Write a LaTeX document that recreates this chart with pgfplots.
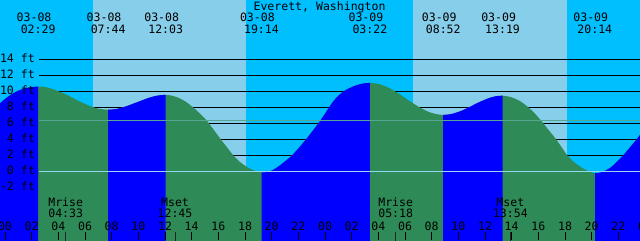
\documentclass[border=0pt]{standalone}
\usepackage{pgfplots}
\pgfplotsset{compat=1.18}
\usepgfplotslibrary{fillbetween}
\usepackage{fontspec}
\newfontfamily\mono{DejaVu Sans Mono}
\definecolor{night}{RGB}{0,191,255}
\definecolor{day}{RGB}{135,206,235}
\definecolor{rise}{RGB}{0,0,255}
\definecolor{fall}{RGB}{46,139,87}
\definecolor{datum}{RGB}{150,215,240}
\definecolor{msl}{RGB}{85,165,144}
\pgfplotsset{
  layers/tide/.define layer set={axis background,axis grid,pre main,main,axis ticks,axis lines,axis tick labels,axis descriptions,axis foreground}{},
}
\begin{document}
\begin{tikzpicture}[every node/.style={font=\mono\fontsize{8.2}{9}\selectfont, inner sep=0pt, text=black}]
\begin{axis}[
  set layers=tide,
  width=16cm, height=6cm, scale only axis,
  xmin=-0.375, xmax=47.625, ymin=-8.5875, ymax=21.4125,
  axis line style={draw=none},
  ytick=\empty,
  xtick={2,4,...,22,26,28,...,46},
  xticklabels={},
  extra x ticks={0,24},
  extra x tick labels={},
  extra x tick style={major tick style={line width=1.9pt}},
  xtick pos=left,
  tick align=inside,
  major tick length=0.2cm,
  xtick style={black, line width=0.7pt},
  clip=true,
]
% sky
\addplot[fill=night, draw=none, on layer=axis background] coordinates {(-1,-9) (49,-9) (49,22) (-1,22)} -- cycle;
\addplot[fill=day, draw=none, on layer=axis background] coordinates {(6.6,-9) (18.075,-9) (18.075,22) (6.6,22)} -- cycle;
\addplot[fill=day, draw=none, on layer=axis background] coordinates {(30.6,-9) (42.15,-9) (42.15,22) (30.6,22)} -- cycle;
% grid lines behind water
\addplot[black, line width=0.7pt, on layer=axis grid] coordinates {(2.55,14) (48,14)};
\addplot[black, line width=0.7pt, on layer=axis grid] coordinates {(2.55,12) (48,12)};
\addplot[black, line width=0.7pt, on layer=axis grid] coordinates {(2.55,10) (48,10)};
\addplot[black, line width=0.7pt, on layer=axis grid] coordinates {(2.55,8) (48,8)};
\addplot[black, line width=0.7pt, on layer=axis grid] coordinates {(2.55,6) (48,6)};
\addplot[black, line width=0.7pt, on layer=axis grid] coordinates {(2.55,4) (48,4)};
\addplot[black, line width=0.7pt, on layer=axis grid] coordinates {(2.55,2) (48,2)};
% tide curve (hours since 03-08 00:00, feet)
\addplot[draw=none, smooth, name path=tide] coordinates {
(-0.375,8.5) (0.2,9.3) (0.9,10.0) (1.6,10.4) (2.483,10.6) (3.2,10.47) (3.9,10.08)
(4.7,9.5) (5.5,8.81) (6.5,8.07) (7.1,7.8) (7.733,7.7) (8.4,7.81) (9.0,8.07)
(9.9,8.63) (10.8,9.19) (11.4,9.45) (12.05,9.55) (12.6,9.42) (13.125,9.1)
(13.6,8.65) (14.1,8.0) (14.6,7.25) (15.1,6.4) (15.65,5.2) (16.18,4.0) (16.65,3.0)
(17.12,2.0) (17.6,1.2) (18.1,0.6) (18.6,0.15) (19.25,-0.15) (19.9,0.02)
(20.42,0.5) (21.0,1.25) (21.5,1.95) (22.05,2.95) (22.58,4.0) (23.05,5.0)
(23.5,6.0) (23.9,6.95) (24.25,7.85) (24.6,8.7) (25.0,9.45) (25.5,10.1)
(26.1,10.6) (26.7,10.92) (27.367,11.05) (28.1,10.88) (28.8,10.42) (29.5,9.74)
(30.2,8.95) (30.9,8.19) (31.6,7.55) (32.2,7.2) (32.867,7.05) (33.5,7.17)
(34.2,7.54) (34.9,8.09) (35.6,8.67) (36.3,9.15) (36.8,9.38) (37.317,9.45)
(37.9,9.3) (38.6,8.8) (39.25,8.0) (39.75,7.2) (40.2,6.35) (40.8,5.1) (41.33,4.0)
(41.75,3.0) (42.17,2.0) (42.65,1.2) (43.125,0.6) (43.65,0.1) (44.25,-0.25)
(44.85,-0.05) (45.4,0.45) (45.9,1.2) (46.37,2.0) (46.9,3.05) (47.375,4.0) (47.625,4.55)
};
\addplot[draw=none, name path=bot] coordinates {(-1,-9) (49,-9)};
\addplot[fill=fall, draw=none] fill between[of=tide and bot];
\addplot[fill=rise, draw=none] fill between[of=tide and bot, soft clip={domain=-1:2.483}];
\addplot[fill=rise, draw=none] fill between[of=tide and bot, soft clip={domain=7.733:12.05}];
\addplot[fill=rise, draw=none] fill between[of=tide and bot, soft clip={domain=19.25:27.367}];
\addplot[fill=rise, draw=none] fill between[of=tide and bot, soft clip={domain=32.867:37.317}];
\addplot[fill=rise, draw=none] fill between[of=tide and bot, soft clip={domain=44.25:49}];
% datum and mean level lines
\addplot[datum, line width=0.7pt] coordinates {(2.55,0) (48,0)};
\addplot[msl, line width=0.7pt] coordinates {(2.55,6.375) (48,6.375)};
% moon ticks
\addplot[black!85, line width=0.6pt] coordinates {(4.55,-8.7) (4.55,-7.59)};
\addplot[black!85, line width=0.6pt] coordinates {(12.75,-8.7) (12.75,-7.59)};
\addplot[black!85, line width=0.6pt] coordinates {(29.3,-8.7) (29.3,-7.59)};
\addplot[black!85, line width=0.6pt] coordinates {(37.9,-8.7) (37.9,-7.59)};
% title and events
\node[anchor=base] at (axis cs:23.59,20.16) {Everett, Washington};
\node[anchor=base] at (axis cs:2.18,18.7) {03-08};   \node[anchor=base] at (axis cs:2.483,17.25) {02:29};
\node[anchor=base] at (axis cs:7.43,18.7) {03-08};   \node[anchor=base] at (axis cs:7.733,17.25) {07:44};
\node[anchor=base] at (axis cs:11.75,18.7) {03-08};  \node[anchor=base] at (axis cs:12.05,17.25) {12:03};
\node[anchor=base] at (axis cs:18.93,18.7) {03-08};  \node[anchor=base] at (axis cs:19.233,17.25) {19:14};
\node[anchor=base] at (axis cs:27.07,18.7) {03-09};  \node[anchor=base] at (axis cs:27.367,17.25) {03:22};
\node[anchor=base] at (axis cs:32.57,18.7) {03-09};  \node[anchor=base] at (axis cs:32.867,17.25) {08:52};
\node[anchor=base] at (axis cs:37.02,18.7) {03-09};  \node[anchor=base] at (axis cs:37.317,17.25) {13:19};
\node[anchor=base] at (axis cs:43.93,18.7) {03-09};  \node[anchor=base] at (axis cs:44.233,17.25) {20:14};
% y labels
\node[anchor=base east] at (axis cs:2.25,13.58) {14 ft};
\node[anchor=base east] at (axis cs:2.25,11.58) {12 ft};
\node[anchor=base east] at (axis cs:2.25,9.58) {10 ft};
\node[anchor=base east] at (axis cs:2.25,7.58) {8 ft};
\node[anchor=base east] at (axis cs:2.25,5.58) {6 ft};
\node[anchor=base east] at (axis cs:2.25,3.58) {4 ft};
\node[anchor=base east] at (axis cs:2.25,1.58) {2 ft};
\node[anchor=base east] at (axis cs:2.25,-0.42) {0 ft};
\node[anchor=base east] at (axis cs:2.25,-2.42) {-2 ft};
% moon labels
\node[anchor=base] at (axis cs:4.55,-4.34) {Mrise}; \node[anchor=base] at (axis cs:4.55,-5.8) {04:33};
\node[anchor=base] at (axis cs:12.75,-4.34) {Mset}; \node[anchor=base] at (axis cs:12.75,-5.8) {12:45};
\node[anchor=base] at (axis cs:29.3,-4.34) {Mrise}; \node[anchor=base] at (axis cs:29.3,-5.8) {05:18};
\node[anchor=base] at (axis cs:37.9,-4.34) {Mset}; \node[anchor=base] at (axis cs:37.9,-5.8) {13:54};
% hour labels
\node[anchor=base] at (axis cs:0,-7.34) {00};
\node[anchor=base] at (axis cs:2,-7.34) {02};
\node[anchor=base] at (axis cs:4,-7.34) {04};
\node[anchor=base] at (axis cs:6,-7.34) {06};
\node[anchor=base] at (axis cs:8,-7.34) {08};
\node[anchor=base] at (axis cs:10,-7.34) {10};
\node[anchor=base] at (axis cs:12,-7.34) {12};
\node[anchor=base] at (axis cs:14,-7.34) {14};
\node[anchor=base] at (axis cs:16,-7.34) {16};
\node[anchor=base] at (axis cs:18,-7.34) {18};
\node[anchor=base] at (axis cs:20,-7.34) {20};
\node[anchor=base] at (axis cs:22,-7.34) {22};
\node[anchor=base] at (axis cs:24,-7.34) {00};
\node[anchor=base] at (axis cs:26,-7.34) {02};
\node[anchor=base] at (axis cs:28,-7.34) {04};
\node[anchor=base] at (axis cs:30,-7.34) {06};
\node[anchor=base] at (axis cs:32,-7.34) {08};
\node[anchor=base] at (axis cs:34,-7.34) {10};
\node[anchor=base] at (axis cs:36,-7.34) {12};
\node[anchor=base] at (axis cs:38,-7.34) {14};
\node[anchor=base] at (axis cs:40,-7.34) {16};
\node[anchor=base] at (axis cs:42,-7.34) {18};
\node[anchor=base] at (axis cs:44,-7.34) {20};
\node[anchor=base] at (axis cs:46,-7.34) {22};
\node[anchor=base] at (axis cs:48,-7.34) {00};
\end{axis}
\pgfresetboundingbox
\path[use as bounding box] (current axis.south west) rectangle (current axis.north east);
\end{tikzpicture}
\end{document}
